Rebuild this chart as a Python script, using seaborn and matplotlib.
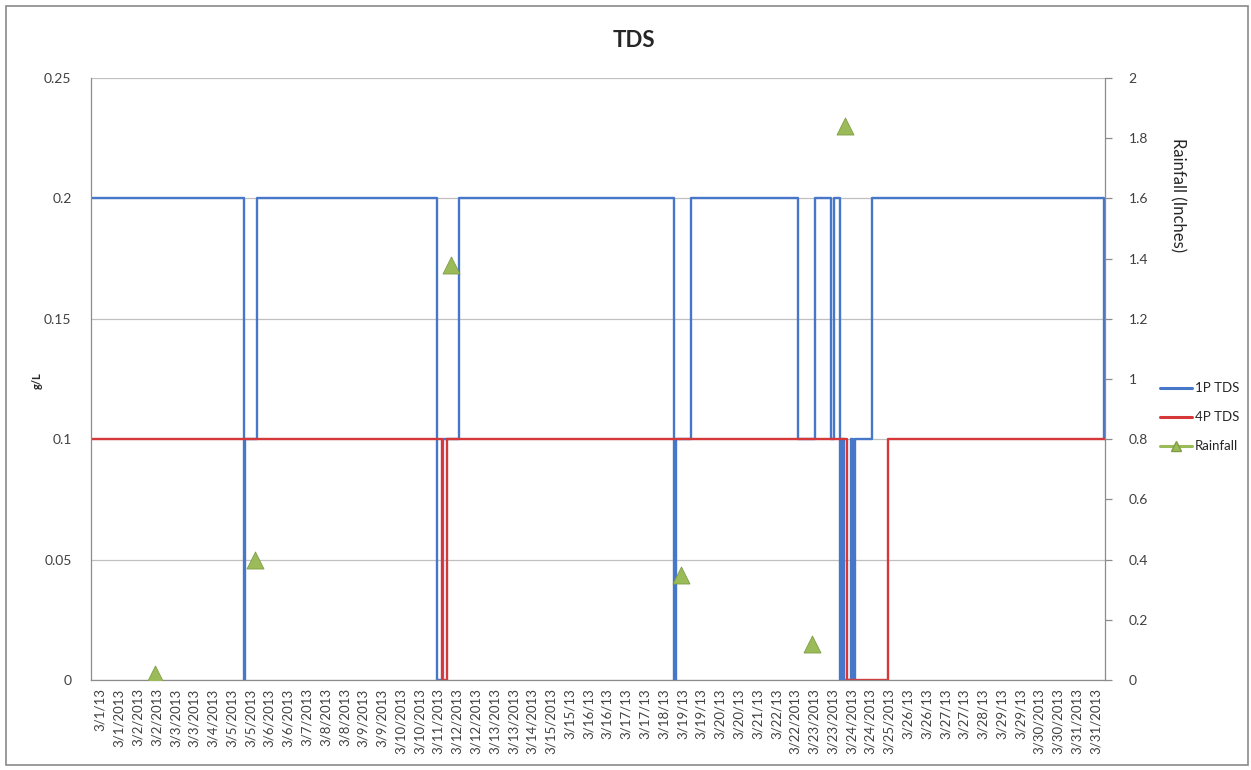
import matplotlib
matplotlib.use("Agg")
import matplotlib.pyplot as plt
import seaborn as sns
from matplotlib.lines import Line2D
from matplotlib.patches import Rectangle

# TDS readings as step changes: days since 3/1/2013 00:00 -> level (g/L)
tds_1p_days = [0.00, 4.68, 4.72, 5.08, 10.57, 10.76, 11.26, 17.81, 17.88, 18.33,
               21.62, 22.13, 22.61, 22.70, 22.90, 22.96, 23.02, 23.23, 23.30,
               23.36, 23.87, 30.98, 31.00]
tds_1p_gl = [0.2, 0.0, 0.1, 0.2, 0.0, 0.1, 0.2, 0.0, 0.1, 0.2,
             0.1, 0.2, 0.1, 0.2, 0.0, 0.1, 0.0, 0.1, 0.0,
             0.1, 0.2, 0.1, 0.1]

tds_4p_days = [0.00, 10.72, 10.87, 23.10, 24.37, 31.00]
tds_4p_gl = [0.1, 0.0, 0.1, 0.0, 0.1, 0.1]

# daily rainfall (inches)
rain_days = [1.96, 5.01, 11.00, 18.04, 22.04, 23.05]
rain_in = [0.02, 0.40, 1.38, 0.35, 0.12, 1.84]

x_labels = [
    "3/1/13", "3/1/2013", "3/2/2013", "3/2/2013", "3/3/2013", "3/3/2013",
    "3/4/2013", "3/5/2013", "3/5/2013", "3/6/2013", "3/6/2013", "3/7/2013",
    "3/8/2013", "3/8/2013", "3/9/2013", "3/9/2013", "3/10/2013", "3/10/2013",
    "3/11/2013", "3/12/2013", "3/12/2013", "3/13/2013", "3/13/2013", "3/14/2013",
    "3/15/2013", "3/15/13", "3/16/13", "3/16/13", "3/17/13", "3/17/13",
    "3/18/13", "3/19/13", "3/19/13", "3/20/13", "3/20/13", "3/21/13",
    "3/22/13", "3/22/2013", "3/23/2013", "3/23/2013", "3/24/2013", "3/24/2013",
    "3/25/2013", "3/26/13", "3/26/13", "3/27/13", "3/27/13", "3/28/13",
    "3/29/13", "3/29/13", "3/30/2013", "3/30/2013", "3/31/2013", "3/31/2013",
]
left_ticks = [0, 0.05, 0.1, 0.15, 0.2, 0.25]
left_tick_labels = ["0", "0.05", "0.1", "0.15", "0.2", "0.25"]
right_ticks = [0, 0.2, 0.4, 0.6, 0.8, 1.0, 1.2, 1.4, 1.6, 1.8, 2.0]
right_tick_labels = ["0", "0.2", "0.4", "0.6", "0.8", "1", "1.2", "1.4", "1.6", "1.8", "2"]

BLUE = "#4677C8"
RED = "#D6383A"
GREEN = "#9BBB59"
GRID = "#C0C0C0"
AXIS = "#8C8C8C"

sns.set_theme(style="white")
plt.rcParams["font.family"] = ["Lato", "DejaVu Sans"]

fig = plt.figure(figsize=(12.51, 7.70), dpi=100)
ax = fig.add_axes([0.0727, 0.1169, 0.8106, 0.7818])

sns.lineplot(x=tds_1p_days, y=tds_1p_gl, drawstyle="steps-post", estimator=None,
             sort=False, color=BLUE, lw=1.7, ax=ax)
sns.lineplot(x=tds_4p_days, y=tds_4p_gl, drawstyle="steps-post", estimator=None,
             sort=False, color=RED, lw=1.7, ax=ax)

ax.set_xlim(0, 31)
ax.set_ylim(0, 0.25)
ax.set_yticks(left_ticks)
ax.set_yticklabels(left_tick_labels, fontsize=10, color="#404040")
n = len(x_labels)
ax.set_xticks([(i + 0.5) * 31 / n for i in range(n)])
ax.set_xticklabels(x_labels, rotation=90, fontsize=9.5, color="#404040")
ax.tick_params(axis="x", length=0, pad=6)
ax.tick_params(axis="y", length=0, pad=14)
ax.yaxis.grid(True, color=GRID, lw=0.9)
ax.set_axisbelow(True)
for side in ["top", "right"]:
    ax.spines[side].set_visible(False)
for side in ["left", "bottom"]:
    ax.spines[side].set_color(AXIS)
    ax.spines[side].set_linewidth(0.9)

ax2 = ax.twinx()
sns.scatterplot(x=rain_days, y=rain_in, marker="^", s=150, color=GREEN,
                edgecolor="#7E9D45", linewidth=0.6, ax=ax2, zorder=5)
ax2.set_ylim(0, 2)
ax2.set_yticks(right_ticks)
ax2.set_yticklabels(right_tick_labels, fontsize=10, color="#404040")
ax2.tick_params(axis="y", length=5, width=0.9, color=AXIS, pad=12, direction="out")
for side in ["top", "left", "bottom"]:
    ax2.spines[side].set_visible(False)
ax2.spines["right"].set_color(AXIS)
ax2.spines["right"].set_linewidth(0.9)
ax2.grid(False)

fig.text(0.507, 0.948, "TDS", ha="center", va="center", fontsize=16, fontweight="bold")
fig.text(0.030, 0.506, "g/L", ha="center", va="center", rotation=90,
         fontsize=8, fontweight="bold")
fig.text(0.9417, 0.747, "Rainfall (Inches)", ha="center", va="center",
         rotation=270, fontsize=12)

handles = [
    Line2D([], [], color=BLUE, lw=2.2),
    Line2D([], [], color=RED, lw=2.2),
    Line2D([], [], color=GREEN, lw=2.2, marker="^", markersize=7,
           markeredgecolor="#7E9D45"),
]
fig.legend(handles, ["1P TDS", "4P TDS", "Rainfall"], loc="center left",
           bbox_to_anchor=(0.918, 0.458), frameon=False, fontsize=9.5,
           handlelength=2.4, handletextpad=0.2, labelspacing=1.3)

fig.patches.append(Rectangle((0.005, 0.006), 0.993, 0.986, transform=fig.transFigure,
                             fill=False, edgecolor="#8A8A8A", lw=1.2))

fig.savefig("out.png", dpi=100)
